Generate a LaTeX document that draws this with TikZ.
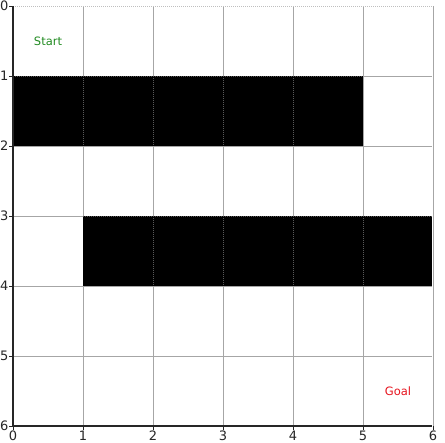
\documentclass[tikz,border=0pt]{standalone}
\usepackage{fontspec}
\setmainfont{DejaVu Sans}
\begin{document}
\begin{tikzpicture}[x=1pt,y=-1pt,
  gridline/.style={draw=black!35,line width=0.9pt},
  hidden/.style={draw=black!65,line width=0.6pt,dash pattern=on 1pt off 1pt},
  wall/.style={fill=black,draw=none},
  axisline/.style={draw=black!85,line width=1.1pt},
  tickmark/.style={draw=black!85,line width=0.8pt},
  ticklabel/.style={font=\fontsize{13}{13}\selectfont,text=black!85,inner sep=0pt},
  marker/.style={font=\fontsize{11.5}{12}\selectfont,inner sep=0pt}]
\useasboundingbox (0,0) rectangle (445,443);
% grid
\foreach \i in {1,...,6} {
  \draw[gridline] (13+70*\i,6) -- (13+70*\i,426);
}
\foreach \i in {1,...,5} {
  \draw[gridline] (13,6+70*\i) -- (432,6+70*\i);
}
\draw[draw=black!25,line width=0.8pt,dash pattern=on 1pt off 1pt] (13,6) -- (432,6);
% walls
\fill[wall] (13,76) rectangle (363,146);
\fill[wall] (83,216) rectangle (432,286);
\foreach \i in {1,...,4} {\draw[hidden] (13+70*\i,76) -- (13+70*\i,146);}
\foreach \i in {2,...,5} {\draw[hidden] (13+70*\i,216) -- (13+70*\i,286);}
\draw[hidden] (13,76) -- (363,76);
\draw[hidden] (83,216) -- (432,216);
% axes
\coordinate (o) at (13,426);
\coordinate (t) at (13,6);
\coordinate (r) at (432,426);
\draw[axisline] (t) -- (o) -- (r);
\foreach \i in {0,...,6} {
  \draw[tickmark] (9,6+70*\i) -- (13,6+70*\i);
  \node[ticklabel,anchor=east] (yl\i) at (8.5,6+70*\i) {\i};
  \draw[tickmark] (13+70*\i,426) -- (13+70*\i,430);
  \node[ticklabel,anchor=north] (xl\i) at (13+70*\i,431) {\i};
}
% markers
\node[marker,text={rgb,255:red,34;green,139;blue,34}] (start) at (48,41) {Start};
\node[marker,text={rgb,255:red,230;green,20;blue,30}] (goal) at (398,391) {Goal};
\end{tikzpicture}
\end{document}
